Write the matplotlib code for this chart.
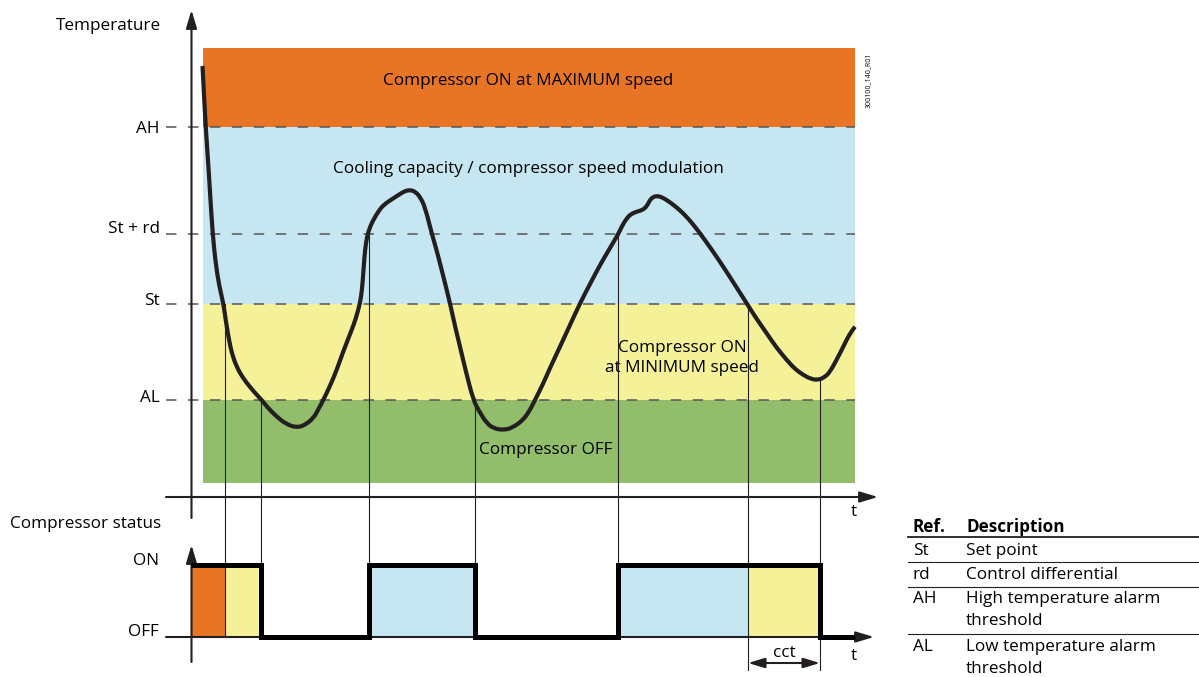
import matplotlib
matplotlib.use("Agg")
import matplotlib.pyplot as plt
from matplotlib.path import Path
from matplotlib.patches import PathPatch

plt.rcParams['font.family'] = ['Open Sans', 'DejaVu Sans']
plt.rcParams['lines.scale_dashes'] = False

# ---------------- data (chart units: time -> x, temperature -> y, y grows downward) -------------
level_names = ['AH', 'St + rd', 'St', 'AL']
level_values = [127, 234, 304, 400]
level_label_offsets = [2, -5, -3, -2]

band_labels = ['Compressor ON at MAXIMUM speed',
               'Cooling capacity / compressor speed modulation',
               'Compressor ON\nat MINIMUM speed',
               'Compressor OFF']
band_top = [48, 127, 304, 400]
band_bottom = [127, 304, 400, 483]
band_colors = ['#E87426', '#C6E7F1', '#F5F199', '#92BE6C']
band_t_start, band_t_end = 203, 855

curve_t = [202.5, 204, 205.7, 208, 210.5, 212.7, 215.5, 219, 223.3, 226, 229, 232, 236.7,
           243, 250, 256, 261.7, 268, 276.7, 286, 296.7, 305, 313.3, 318, 323.3, 330, 336.7,
           343, 351.7, 356, 360, 362, 363.5, 365, 367, 370, 373.3, 378, 383.3, 393.3, 400,
           405, 410, 415, 420, 425, 431.7, 436, 440, 445, 450, 455, 460, 466, 473.3, 479,
           486.7, 494, 503.3, 512, 523.3, 530, 535, 543, 550, 560, 570, 580, 590, 600, 610,
           618.3, 622, 626.7, 631, 636.7, 641, 645, 648, 650, 653, 656.7, 661, 666.7, 675,
           683.3, 692, 700, 712, 723.3, 735, 746.7, 756, 766.7, 776, 786.7, 795, 803.3, 811,
           818.3, 825, 830, 836, 843.3, 849, 855]
curve_T = [66, 95, 127, 160, 200, 234, 262, 285, 303, 322, 340, 354, 367,
           378, 387, 394, 400, 408, 416.7, 424, 427.7, 425, 418.3, 410, 400, 386, 370,
           352, 330, 318, 303.3, 290, 270, 250, 236.5, 227, 220, 212, 205, 198.3, 194,
           191, 190, 191.5, 196.7, 207, 233.3, 248, 263.3, 283, 303.3, 326, 346.7, 372, 400, 411,
           423.3, 428.5, 430, 428, 420, 410, 400, 384, 368, 346.7, 325, 303.3, 284, 265, 248,
           234, 226, 218.3, 214, 211.7, 210.5, 208.3, 204, 200, 197, 196, 196.8, 200, 206,
           213.3, 223, 233.3, 250, 266.7, 285, 303.3, 318, 333.3, 347, 360, 369, 375, 379,
           380, 377, 371.7, 361, 346.7, 335, 326.7]

# switching instants: time and temperature level where the guide line starts
guide_t = [225, 261, 369, 475, 618, 748, 820]
guide_T = [304, 400, 234, 400, 234, 304, 380]

# compressor status
status_t = [191, 261, 369, 475, 618, 820, 855]
status_v = ['ON', 'OFF', 'ON', 'OFF', 'ON', 'OFF', 'OFF']
status_fill_t0 = [191, 225, 369, 618, 748]
status_fill_t1 = [225, 261, 475, 748, 820]
status_fill_colors = ['#E87426', '#F5F199', '#C6E7F1', '#C6E7F1', '#F5F199']
cct_t = [748, 820]

table_refs = ['St', 'rd', 'AH', 'AL']
table_desc = ['Set point', 'Control differential',
              'High temperature alarm\nthreshold', 'Low temperature alarm\nthreshold']

# ---------------- layout ----------------
status_y = {'ON': 565, 'OFF': 637}
INK = '#231f20'
FS = 12.3

fig = plt.figure(figsize=(11.99, 6.77), dpi=100)
ax = fig.add_axes([0, 0, 1, 1])
ax.set_xlim(0, 1199)
ax.set_ylim(677, 0)
ax.axis('off')

# bands
for top, bot, col in zip(band_top, band_bottom, band_colors):
    ax.fill_between([band_t_start, band_t_end], top, bot, color=col, lw=0, zorder=1)

# dashed threshold lines + labels
for name, lv, dy in zip(level_names, level_values, level_label_offsets):
    ax.plot([166, band_t_end], [lv, lv], color='#555555', lw=1.1,
            dashes=(7.5, 8.3), zorder=2)
    ax.text(160, lv + dy, name, ha='right', va='center', fontsize=FS, color='k')

# band texts
ax.text(528, 81, band_labels[0], ha='center', va='center', fontsize=FS, color='k')
ax.text(528, 169, band_labels[1], ha='center', va='center', fontsize=FS, color='k')
ax.text(682, 358, band_labels[2], ha='center', va='center', fontsize=FS, color='k',
        linespacing=1.3)
ax.text(546, 450, band_labels[3], ha='center', va='center', fontsize=FS, color='k')

# guide lines
for t, T in zip(guide_t, guide_T):
    end = 670 if t in cct_t else status_y['OFF']
    ax.plot([t, t], [T, end], color=INK, lw=0.8, zorder=3)

# curve: smooth quadratic path through the read points (points act as control points)
verts = [(curve_t[0], curve_T[0])]
codes = [Path.MOVETO]
for i in range(1, len(curve_t) - 1):
    mx = (curve_t[i] + curve_t[i + 1]) / 2
    my = (curve_T[i] + curve_T[i + 1]) / 2
    verts += [(curve_t[i], curve_T[i]), (mx, my)]
    codes += [Path.CURVE3, Path.CURVE3]
verts.append((curve_t[-1], curve_T[-1]))
codes.append(Path.LINETO)
ax.add_patch(PathPatch(Path(verts, codes), facecolor='none', edgecolor=INK, lw=3.0,
                       joinstyle='round', capstyle='butt', zorder=5))

# axes with arrows
arrow_kw = dict(arrowstyle='-|>,head_length=1.1,head_width=0.33', lw=1.5, color=INK,
                shrinkA=0, shrinkB=0, mutation_scale=10)
ax.annotate('', xy=(191.5, 10), xytext=(191.5, 518), arrowprops=arrow_kw, zorder=6)
ax.annotate('', xy=(878, 497), xytext=(166, 497), arrowprops=arrow_kw, zorder=6)
ax.annotate('', xy=(191.5, 545), xytext=(191.5, 662), arrowprops=arrow_kw, zorder=6)
ax.annotate('', xy=(874, 637), xytext=(166, 637), arrowprops=arrow_kw, zorder=4)

ax.text(108, 26, 'Temperature', ha='center', va='center', fontsize=FS)
ax.text(854, 512, 't', ha='center', va='center', fontsize=FS)
ax.text(86, 524, 'Compressor status', ha='center', va='center', fontsize=FS)
ax.text(159, 561, 'ON', ha='right', va='center', fontsize=FS)
ax.text(159, 632, 'OFF', ha='right', va='center', fontsize=FS)
ax.text(854, 656, 't', ha='center', va='center', fontsize=FS)

# status fills
for t0, t1, col in zip(status_fill_t0, status_fill_t1, status_fill_colors):
    ax.fill_between([t0, t1], status_y['ON'], status_y['OFF'], color=col, lw=0, zorder=2)

# status step line
ax.plot(status_t, [status_y[v] for v in status_v], drawstyle='steps-post', color='k',
        lw=3.6, solid_joinstyle='miter', solid_capstyle='butt', zorder=6)

# cct
ax.annotate('', xy=(cct_t[0], 663), xytext=(cct_t[1], 663),
            arrowprops=dict(arrowstyle='<|-|>,head_length=1.0,head_width=0.3', lw=1.5,
                            color=INK, shrinkA=0, shrinkB=0, mutation_scale=10))
ax.text(784, 653, 'cct', ha='center', va='center', fontsize=FS)

# small code
ax.text(868, 80, '300100_140_R01', rotation=90, ha='center', va='center', fontsize=5)

# table
ax.text(913, 527, 'Ref.', ha='left', va='center', fontsize=FS, fontweight='bold')
ax.text(966, 527, 'Description', ha='left', va='center', fontsize=FS, fontweight='bold')
ax.plot([908, 1199], [537, 537], color=INK, lw=1.3)
row_y = [551, 575, 599, 647]
row_lines = [562, 587, 634]
line_step = 22
for r, d, y in zip(table_refs, table_desc, row_y):
    ax.text(913, y, r, ha='left', va='center', fontsize=FS)
    for k, part in enumerate(d.split('\n')):
        ax.text(966, y + k * line_step, part, ha='left', va='center', fontsize=FS)
for y in row_lines:
    ax.plot([908, 1199], [y, y], color=INK, lw=0.8)

fig.savefig('out.png', dpi=100)
